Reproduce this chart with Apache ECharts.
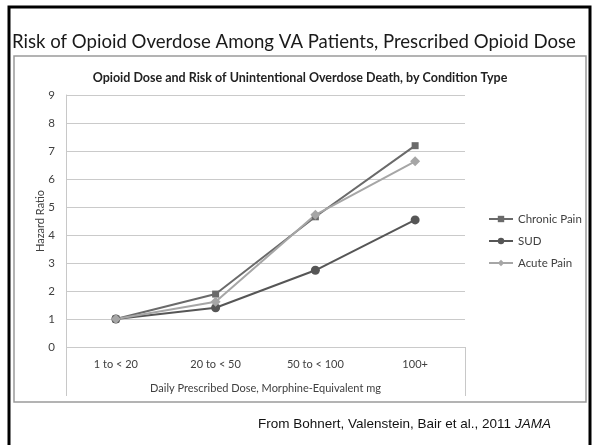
<!DOCTYPE html>
<html>
<head>
<meta charset="utf-8">
<script src="https://cdn.jsdelivr.net/npm/echarts@6/dist/echarts.min.js"></script>
<style>
  html, body { margin: 0; padding: 0; background: #fff; }
  #chart { width: 592px; height: 445px; }
</style>
</head>
<body>
<div id="chart"></div>
<script>
// 剂量分组（x 轴）
const doseGroups = ['1 to < 20', '20 to < 50', '50 to < 100', '100+']
// 各类病人的风险比
const chronicPain = [1.0, 1.89, 4.65, 7.19]
const sud = [1.0, 1.4, 2.74, 4.54]
const acutePain = [1.0, 1.62, 4.72, 6.63]
const yTicks = [0, 1, 2, 3, 4, 5, 6, 7, 8, 9]

const chart = echarts.init(document.getElementById('chart'))

const option = {
  backgroundColor: '#fff',
  animation: false,
  textStyle: { fontFamily: 'Lato, "Open Sans", sans-serif' },
  title: [
    {
      text: 'Risk of Opioid Overdose Among VA Patients, Prescribed Opioid Dose',
      left: 7,
      top: 27,
      textStyle: { fontSize: 18.6, fontWeight: 'normal', color: '#1a1a1a', fontFamily: 'Lato, sans-serif' }
    },
    {
      text: 'Opioid Dose and Risk of Unintentional Overdose Death, by Condition Type',
      left: 295,
      textAlign: 'center',
      top: 66,
      textStyle: { fontSize: 12.5, fontWeight: 'bold', color: '#222' }
    },
    {
      text: 'From Bohnert, Valenstein, Bair et al., 2011 {i|JAMA}',
      left: 253,
      top: 412,
      textStyle: {
        fontSize: 13.5, fontWeight: 'normal', color: '#111',
        fontFamily: '"Liberation Sans", Arial, sans-serif',
        rich: {
          i: { fontStyle: 'italic', fontSize: 13.5, color: '#111', fontFamily: '"Liberation Sans", Arial, sans-serif' }
        }
      }
    }
  ],
  graphic: [
    // 外框（黑）
    { type: 'polyline', shape: { points: [[9, 445], [9, 7], [590, 7], [590, 445]] }, style: { stroke: '#000', lineWidth: 3, fill: null }, silent: true },
    // 图表区边框
    { type: 'rect', shape: { x: 14, y: 56, width: 572, height: 346 }, style: { stroke: '#9a9a9a', lineWidth: 1.5, fill: null }, silent: true },
    // 绘图区下方竖线
    { type: 'line', shape: { x1: 66.5, y1: 347, x2: 66.5, y2: 396 }, style: { stroke: '#c8c8c8', lineWidth: 1 }, silent: true },
    { type: 'line', shape: { x1: 465.5, y1: 347, x2: 465.5, y2: 396 }, style: { stroke: '#c8c8c8', lineWidth: 1 }, silent: true }
  ],
  legend: {
    orient: 'vertical',
    left: 483,
    top: 208,
    itemWidth: 24,
    itemHeight: 8,
    itemGap: 10,
    textStyle: { fontSize: 11.5, color: '#404040' },
    data: ['Chronic Pain', 'SUD', 'Acute Pain']
  },
  grid: { left: 66, right: 127, top: 95, bottom: 98 },
  xAxis: {
    type: 'category',
    data: doseGroups,
    name: 'Daily Prescribed Dose, Morphine-Equivalent mg',
    nameLocation: 'middle',
    nameGap: 36,
    nameTextStyle: { fontSize: 11, color: '#404040' },
    axisLine: { show: false },
    axisTick: { show: false },
    axisLabel: { fontSize: 11, color: '#404040', margin: 12 }
  },
  yAxis: {
    type: 'value',
    min: 0,
    max: 9,
    interval: 1,
    name: 'Hazard Ratio',
    nameLocation: 'middle',
    nameGap: 20,
    nameMoveOverlap: false,
    nameTextStyle: { fontSize: 11, color: '#404040' },
    axisLine: { show: true, lineStyle: { color: '#c8c8c8' } },
    axisTick: { show: false },
    axisLabel: {
      fontSize: 11.5, color: '#404040', margin: 11,
      formatter: v => (yTicks.indexOf(v) >= 0 ? String(v) : '')
    },
    splitLine: { lineStyle: { color: '#cacaca', width: 1 } }
  },
  series: [
    {
      name: 'Chronic Pain',
      type: 'line',
      data: chronicPain,
      symbol: 'rect',
      symbolSize: 7,
      lineStyle: { color: '#6a6a6a', width: 2 },
      itemStyle: { color: '#6a6a6a' }
    },
    {
      name: 'SUD',
      type: 'line',
      data: sud,
      symbol: 'circle',
      symbolSize: 9,
      lineStyle: { color: '#565656', width: 2 },
      itemStyle: { color: '#565656' }
    },
    {
      name: 'Acute Pain',
      type: 'line',
      data: acutePain,
      symbol: 'diamond',
      symbolSize: 10,
      lineStyle: { color: '#a6a6a6', width: 2 },
      itemStyle: { color: '#a6a6a6' }
    }
  ]
}

chart.setOption(option)
</script>
</body>
</html>
